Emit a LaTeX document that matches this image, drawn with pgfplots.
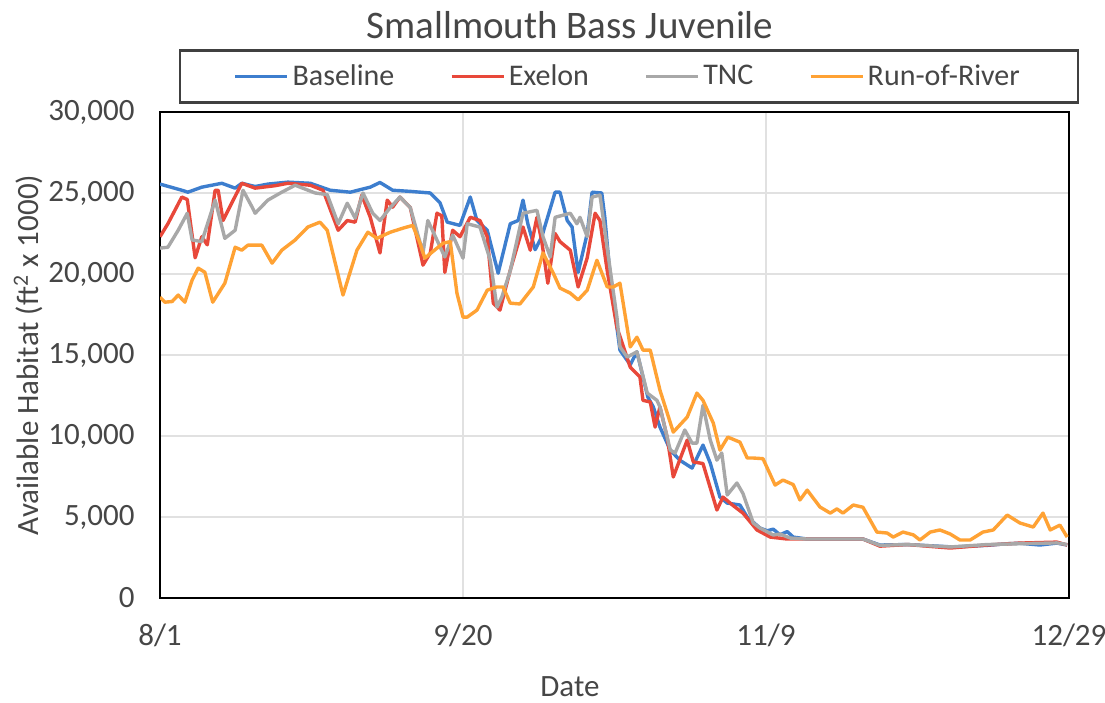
\documentclass[border=0pt]{standalone}
\usepackage{pgfplots}
\pgfplotsset{compat=1.18}
\usepackage{fontspec}
\setmainfont{Carlito}

\definecolor{cBase}{RGB}{61,126,206}
\definecolor{cExel}{RGB}{232,72,58}
\definecolor{cTNC}{RGB}{168,168,168}
\definecolor{cROR}{RGB}{255,162,52}
\definecolor{txt}{RGB}{70,70,70}
\definecolor{gridc}{RGB}{225,225,225}

\begin{document}
\begin{tikzpicture}
\useasboundingbox (0,0) rectangle (552.5bp,351.5bp);
\begin{axis}[
  at={(80bp,52.5bp)}, anchor=south west,
  scale only axis, width=454.5bp, height=243bp,
  xmin=0, xmax=150, ymin=0, ymax=30000,
  xtick={0,50,100,150},
  xticklabels={8/1,9/20,11/9,12/29},
  ytick={0,5000,10000,15000,20000,25000,30000},
  /pgf/number format/.cd, 1000 sep={,}, assume math mode=true, /pgfplots/.cd,
  scaled y ticks=false,
  major tick length=0pt,
  tick label style={font=\fontsize{15.5bp}{18bp}\selectfont, text=txt},
  yticklabel style={inner sep=0pt},
  yticklabel shift=12.5bp,
  xticklabel style={inner sep=0pt},
  xticklabel shift=13bp,
  grid=major,
  major grid style={gridc, line width=0.7bp},
  axis line style={black, line width=1.4bp},
  title={Smallmouth Bass Juvenile},
  title style={at={(0.451,1.155)}, anchor=center, font=\fontsize{19.5bp}{22bp}\selectfont, text=txt},
  xlabel={Date},
  xlabel style={at={(0.451,-0.183)}, anchor=center, font=\fontsize{15.5bp}{18bp}\selectfont, text=txt},
  ylabel={Available Habitat (ft\textsuperscript{2} x 1000)},
  ylabel style={at={(-0.145,0.5)}, anchor=center, font=\fontsize{15.5bp}{18bp}\selectfont, text=txt},
  legend columns=4,
  legend style={at={(0.516,1.073)}, anchor=center, draw=black!75, line width=1.2bp,
    font=\fontsize{15bp}{18bp}\selectfont, text=txt, inner xsep=27bp, inner ysep=5bp,
    /tikz/every even column/.append style={column sep=26bp}},
  legend image code/.code={\draw[#1, line width=1.2bp] (0bp,0bp) -- (26bp,0bp);},
  every axis plot/.append style={line width=1.7bp, line join=round},
]

% Baseline
\addplot[cBase] coordinates {
(0,25550) (3.6,25170) (4.6,25050) (6.9,25360) (10.2,25600) (12.4,25300) (13.5,25600)
(15.7,25400) (17.8,25550) (21.1,25670) (24.8,25600) (28.1,25170) (31.4,25050) (34.7,25360)
(36.3,25650) (38.4,25170) (41.3,25100) (44.6,25000) (46.2,24400) (47.4,23200) (49.5,23000)
(51.2,24750) (52.3,23300) (54.0,22700) (55.8,20050) (57.8,23100) (59.1,23300) (59.9,24560)
(60.7,23100) (61.9,21500) (63.0,22300) (65.2,25050) (66.0,25050) (67.2,23300) (68.0,22900)
(69.0,20100) (70.5,22500) (71.3,25050) (72.9,25000) (73.4,23500) (74.3,19800) (75.9,15300)
(77.6,14400) (78.7,15200) (80.5,12400) (81.4,11800) (82.5,10550) (84.2,9130) (85.8,8500)
(87.8,8020) (89.6,9440) (90.8,8330) (92.4,6230) (93.6,5860) (95.7,5740) (96.9,5000)
(99.0,4320) (100.2,4150) (101.2,4250) (102.3,3900) (103.5,4100) (104.5,3760) (106.8,3640)
(116.0,3640) (118.8,3270) (123.3,3300) (130.9,3150) (136.5,3250) (139.8,3350) (141.9,3380)
(145.2,3270) (148.0,3390) (149.7,3270)
};
\addlegendentry{Baseline}

% Exelon
\addplot[cExel] coordinates {
(0,22300) (1.3,23100) (3.6,24750) (4.5,24600) (5.8,21000) (6.9,22300) (7.8,21800)
(9.1,25170) (9.6,25170) (10.4,23300) (11.9,24430) (13.5,25600) (15.7,25300) (19.0,25450)
(21.1,25600) (24.8,25480) (26.9,25170) (29.4,22700) (30.9,23300) (32.2,23200) (33.3,24870)
(34.7,23500) (36.3,21300) (37.5,24560) (38.4,24130) (39.6,24750) (41.3,24100) (43.4,20550)
(44.6,21300) (45.7,23750) (46.5,23600) (47.0,20100) (48.3,22700) (49.5,22300) (51.2,23500)
(52.8,23300) (54.0,22300) (55.0,18200) (56.1,17770) (57.8,20240) (59.9,22900) (61.1,21470)
(62.2,23500) (63.0,22000) (64.0,19430) (65.2,22500) (66.0,22000) (67.7,21470) (69.0,19200)
(70.5,21000) (71.8,23750) (72.6,23300) (73.8,20200) (75.4,16700) (77.6,14250) (79.2,13640)
(79.7,12200) (80.9,12100) (81.7,10550) (82.5,11800) (83.7,9900) (84.7,7470) (87.0,9750)
(88.0,8400) (89.6,8300) (91.9,5430) (92.9,6230) (94.6,5700) (96.2,5240) (98.5,4200)
(100.7,3760) (103.5,3640) (116.0,3640) (118.8,3200) (123.3,3300) (130.4,3085) (136.5,3270)
(141.9,3390) (148.0,3450) (149.7,3270)
};
\addlegendentry{Exelon}

% TNC
\addplot[cTNC] coordinates {
(0,21600) (1.3,21650) (3.0,22700) (4.5,23750) (5.3,22100) (6.9,22000) (9.1,24560)
(10.7,22200) (12.4,22700) (13.7,25170) (15.2,24130) (15.7,23750) (17.8,24560) (20.1,25050)
(22.3,25480) (25.6,25000) (27.6,24900) (29.4,23100) (30.9,24370) (32.2,23450) (33.5,25000)
(35.1,23750) (36.3,23300) (38.0,24100) (39.6,24750) (41.3,24100) (43.4,21300) (44.2,23300)
(45.7,22100) (47.0,21050) (48.3,22400) (50.0,20980) (50.7,23100) (52.8,22900) (54.5,20850)
(55.6,17950) (56.4,18570) (57.8,20200) (59.9,23750) (62.2,23930) (63.2,22300) (64.4,21050)
(65.2,23500) (67.7,23750) (68.8,23100) (69.3,23500) (70.5,22300) (71.3,24750) (72.6,24870)
(74.3,20240) (75.4,17340) (75.9,15500) (77.1,14870) (78.7,15200) (80.4,12650) (82.0,12200)
(82.5,11800) (84.2,9130) (85.0,8950) (86.6,10370) (87.8,9560) (88.6,9560) (89.6,11900)
(90.8,9750) (91.9,8510) (92.7,8950) (93.6,6360) (95.2,7100) (96.2,6450) (97.9,4630)
(99.0,4320) (101.2,3890) (102.3,3950) (104.0,3700) (106.8,3640) (116.0,3640) (118.8,3250)
(123.3,3300) (130.4,3150) (136.5,3300) (141.9,3350) (148.0,3400) (149.7,3300)
};
\addlegendentry{TNC}

% Run-of-River
\addplot[cROR] coordinates {
(0,18570) (0.8,18260) (2.0,18300) (3.0,18700) (4.1,18260) (5.3,19620) (6.3,20360)
(7.4,20110) (8.7,18260) (10.7,19430) (12.4,21650) (13.5,21470) (14.5,21780) (16.8,21780)
(18.5,20670) (20.1,21470) (22.3,22100) (24.4,22900) (26.4,23200) (27.6,22700) (30.2,18700)
(32.5,21470) (34.3,22580) (35.8,22200) (38.0,22580) (40.1,22830) (41.7,23000) (42.9,21900)
(43.7,20980) (46.7,21900) (47.9,22000) (49.0,18820) (50.0,17340) (50.7,17340) (52.3,17770)
(54.0,19000) (55.6,19200) (56.6,19200) (57.8,18200) (59.4,18150) (61.6,19200) (63.2,21300)
(64.9,20050) (66.0,19130) (67.7,18820) (69.0,18400) (70.5,19000) (72.1,20850) (73.8,19200)
(74.8,19200) (75.9,19430) (77.6,15500) (78.7,16100) (79.7,15300) (80.9,15300) (82.5,12830)
(84.7,10240) (87.0,11170) (88.6,12650) (89.6,12200) (91.3,10800) (92.4,9130) (93.7,9930)
(95.7,9620) (96.9,8640) (97.9,8640) (99.5,8600) (101.5,6970) (102.8,7280) (104.5,7000)
(105.6,6050) (106.8,6660) (108.9,5620) (110.6,5240) (111.7,5500) (112.7,5240) (114.4,5740)
(116.0,5600) (118.3,4070) (120.0,4010) (121.0,3760) (122.6,4070) (124.3,3900) (125.4,3580)
(127.1,4070) (128.7,4200) (130.4,3950) (132.0,3580) (133.7,3580) (135.8,4070) (137.5,4200)
(139.8,5120) (141.9,4630) (144.1,4380) (145.7,5240) (146.9,4200) (148.5,4500) (149.7,3760)
};
\addlegendentry{Run-of-River}

\end{axis}
\end{tikzpicture}
\end{document}
